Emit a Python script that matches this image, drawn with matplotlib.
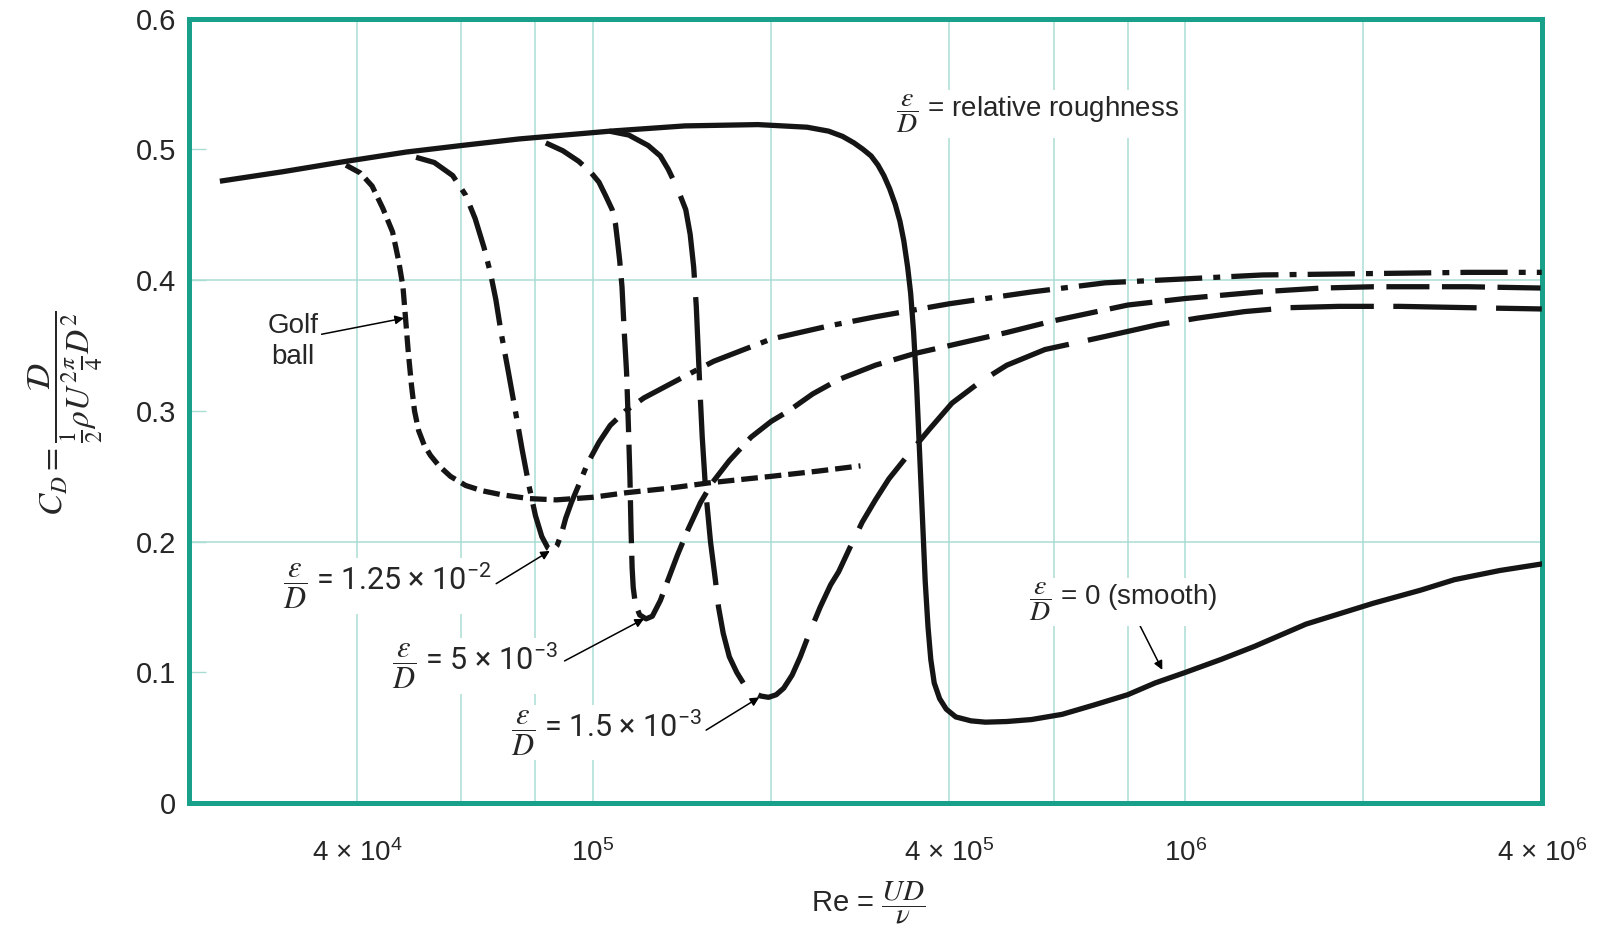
import matplotlib
matplotlib.use("Agg")
import matplotlib.pyplot as plt

plt.rcParams['lines.scale_dashes'] = False
plt.rcParams['font.family'] = ['Liberation Sans Narrow', 'Liberation Sans', 'DejaVu Sans']

# drag coefficient curves
re_smooth = [2.37e4, 3e4, 3.72e4, 4.84e4, 6e4, 7.5e4, 1.07e5, 1.43e5, 1.9e5, 2.3e5, 2.5e5,
             2.64e5, 2.76e5, 2.86e5, 2.95e5, 3.03e5, 3.1e5, 3.17e5, 3.24e5, 3.3e5, 3.35e5,
             3.4e5, 3.44e5, 3.48e5, 3.52e5, 3.56e5, 3.6e5, 3.64e5, 3.68e5, 3.72e5, 3.77e5,
             3.85e5, 3.95e5, 4.1e5, 4.35e5, 4.6e5, 5e5, 5.5e5, 6.2e5, 7e5, 8e5, 8.9e5, 1e6,
             1.15e6, 1.31e6, 1.6e6, 2.08e6, 2.5e6, 2.85e6, 3.4e6, 4e6]
cd_smooth = [0.476, 0.483, 0.490, 0.498, 0.503, 0.508, 0.514, 0.518, 0.519, 0.517, 0.514,
             0.510, 0.505, 0.500, 0.495, 0.488, 0.480, 0.470, 0.458, 0.445, 0.430,
             0.410, 0.390, 0.360, 0.320, 0.270, 0.220, 0.170, 0.135, 0.110, 0.092,
             0.080, 0.072, 0.066, 0.063, 0.062, 0.0625, 0.064, 0.068, 0.075, 0.083, 0.092, 0.100,
             0.110, 0.120, 0.137, 0.153, 0.163, 0.171, 0.178, 0.183]

re_15e3 = [1.066e5, 1.15e5, 1.24e5, 1.3e5, 1.34e5, 1.39e5, 1.435e5, 1.46e5, 1.48e5, 1.495e5,
           1.505e5, 1.515e5, 1.53e5, 1.55e5, 1.58e5, 1.61e5, 1.63e5, 1.66e5, 1.7e5, 1.75e5,
           1.8e5, 1.86e5, 1.92e5, 1.98e5, 2.04e5, 2.1e5, 2.17e5, 2.24e5, 2.32e5, 2.42e5,
           2.52e5, 2.6e5, 2.72e5, 2.85e5, 3e5, 3.16e5, 3.4e5, 3.7e5, 4.04e5, 4.5e5,
           5e5, 5.8e5, 7.33e5, 9e5, 1.05e6, 1.26e6, 1.5e6, 1.82e6, 2.3e6, 3e6, 4e6]
cd_15e3 = [0.514, 0.511, 0.503, 0.495, 0.485, 0.470, 0.454, 0.435, 0.410, 0.380,
           0.350, 0.320, 0.280, 0.240, 0.200, 0.171, 0.150, 0.130, 0.112, 0.100,
           0.091, 0.085, 0.082, 0.081, 0.083, 0.088, 0.098, 0.112, 0.130, 0.150,
           0.167, 0.177, 0.196, 0.215, 0.232, 0.248, 0.266, 0.286, 0.306, 0.322,
           0.335, 0.347, 0.357, 0.366, 0.371, 0.376, 0.379, 0.380, 0.380, 0.379, 0.378]

re_5e3 = [8.33e4, 8.9e4, 9.46e4, 9.9e4, 1.024e5, 1.05e5, 1.078e5, 1.092e5, 1.1e5, 1.11e5,
          1.12e5, 1.13e5, 1.14e5, 1.148e5, 1.155e5, 1.16e5, 1.165e5, 1.17e5, 1.18e5, 1.2e5,
          1.23e5, 1.26e5, 1.3e5, 1.34e5, 1.39e5, 1.45e5, 1.52e5, 1.59e5, 1.7e5, 1.85e5,
          2e5, 2.14e5, 2.35e5, 2.6e5, 3e5, 3.5e5, 4e5, 5e5, 6e5, 8e5, 1e6, 1.33e6, 1.7e6,
          2.08e6, 3e6, 4e6]
cd_5e3 = [0.505, 0.499, 0.491, 0.483, 0.475, 0.465, 0.454, 0.443, 0.431, 0.415,
          0.395, 0.360, 0.330, 0.290, 0.250, 0.210, 0.180, 0.165, 0.152, 0.144,
          0.141, 0.143, 0.155, 0.171, 0.190, 0.210, 0.230, 0.245, 0.262, 0.280,
          0.292, 0.300, 0.313, 0.324, 0.335, 0.344, 0.350, 0.360, 0.369, 0.381, 0.386, 0.391, 0.394,
          0.395, 0.395, 0.394]

re_125e2 = [5.03e4, 5.4e4, 5.8e4, 6.1e4, 6.33e4, 6.55e4, 6.72e4, 6.86e4, 7.0e4, 7.2e4,
            7.4e4, 7.6e4, 7.8e4, 8.0e4, 8.2e4, 8.4e4, 8.55e4, 8.7e4, 8.85e4, 9.0e4,
            9.2e4, 9.5e4, 9.8e4, 1.024e5, 1.07e5, 1.135e5, 1.22e5, 1.33e5, 1.45e5, 1.6e5,
            1.8e5, 2e5, 2.5e5, 3e5, 4e5, 5.5e5, 7.33e5, 1e6, 1.35e6, 2e6, 3e6, 4e6]
cd_125e2 = [0.494, 0.490, 0.480, 0.465, 0.447, 0.425, 0.405, 0.385, 0.360, 0.330,
            0.300, 0.270, 0.243, 0.220, 0.204, 0.195, 0.193, 0.197, 0.206, 0.218,
            0.230, 0.245, 0.260, 0.276, 0.289, 0.300, 0.310, 0.319, 0.328, 0.338,
            0.347, 0.355, 0.365, 0.372, 0.382, 0.391, 0.398, 0.401, 0.404, 0.405, 0.406, 0.406]

re_golf = [3.83e4, 4.05e4, 4.24e4, 4.42e4, 4.59e4, 4.7e4, 4.78e4, 4.83e4, 4.88e4, 4.94e4,
           5.0e4, 5.08e4, 5.19e4, 5.32e4, 5.5e4, 5.75e4, 6.1e4, 6.5e4, 7.0e4, 7.8e4,
           8.67e4, 1e5, 1.14e5, 1.35e5, 1.57e5, 2e5, 2.4e5, 2.83e5]
cd_golf = [0.488, 0.482, 0.472, 0.455, 0.437, 0.415, 0.395, 0.370, 0.345, 0.320,
           0.300, 0.285, 0.274, 0.266, 0.258, 0.250, 0.243, 0.239, 0.236, 0.233,
           0.232, 0.234, 0.2375, 0.241, 0.245, 0.250, 0.254, 0.258]

x_grid = [4e4, 6e4, 8e4, 1e5, 2e5, 4e5, 6e5, 8e5, 1e6, 2e6]
x_ticks = [4e4, 1e5, 4e5, 1e6, 4e6]
x_labels = [r'4 × $\mathregular{10^{4}}$', r'$\mathregular{10^{5}}$', r'4 × $\mathregular{10^{5}}$',
            r'$\mathregular{10^{6}}$', r'4 × $\mathregular{10^{6}}$']
y_ticks = [0, 0.1, 0.2, 0.3, 0.4, 0.5, 0.6]
y_labels = ['0', '0.1', '0.2', '0.3', '0.4', '0.5', '0.6']

teal = '#18a08a'
grid_c = '#a9dcd3'
ink = '#151515'
txt = '#262626'

fig = plt.figure(figsize=(16.01, 9.34), dpi=100)
ax = fig.add_axes([0.118, 0.140, 0.845, 0.840])
ax.set_xscale('log')
ax.set_xlim(2.08e4, 4e6)
ax.set_ylim(0, 0.6)

for xv in x_grid:
    ax.axvline(xv, color=grid_c, lw=1.1, zorder=0)
for yv in [0.2, 0.4]:
    ax.axhline(yv, color=grid_c, lw=1.1, zorder=0)

lw = 3.8
ax.plot(re_smooth, cd_smooth, color=ink, lw=lw, solid_joinstyle='round', zorder=3)
ax.plot(re_15e3, cd_15e3, color=ink, lw=lw, dashes=(60, 14), dash_capstyle='butt', zorder=3)
ax.plot(re_5e3, cd_5e3, color=ink, lw=lw, dashes=(31, 9), dash_capstyle='butt', zorder=3)
ax.plot(re_125e2, cd_125e2, color=ink, lw=lw, dashes=(34, 8, 5, 8), dash_capstyle='butt', zorder=3)
ax.plot(re_golf, cd_golf, color=ink, lw=lw, dashes=(12, 5), dash_capstyle='butt', zorder=3)

ax.set_xticks(x_ticks)
ax.set_xticklabels(x_labels)
ax.xaxis.set_minor_locator(matplotlib.ticker.NullLocator())
ax.set_yticks(y_ticks)
ax.set_yticklabels(y_labels)
ax.tick_params(axis='x', length=0, pad=26, labelsize=20, labelcolor=txt)
ax.tick_params(axis='y', direction='in', length=12, width=1, color=grid_c, pad=9,
               labelsize=21, labelcolor=txt)
for s in ax.spines.values():
    s.set_color(teal)
    s.set_linewidth(3.6)

box = dict(facecolor='white', edgecolor='none', pad=2)
arrow = dict(arrowstyle='-|>', color='black', lw=1.1, mutation_scale=13, shrinkA=0, shrinkB=0)
frac = r'$\dfrac{\varepsilon}{D}$'

ax.text(3.25e5, 0.527, frac + ' = relative roughness', fontsize=20, va='center',
        math_fontfamily='stix', bbox=box, color=txt, zorder=4)
ax.annotate('Golf\nball', xy=(4.8e4, 0.371), xytext=(3.12e4, 0.353), fontsize=20,
            ha='center', va='center', linespacing=1.25, color=txt,
            arrowprops=dict(arrow, relpos=(1.0, 0.62)), bbox=box, zorder=4)
ax.annotate(frac + r' = 1.25 × $\mathregular{10^{-2}}$', xy=(8.46e4, 0.193), xytext=(3.0e4, 0.166),
            fontsize=22, family='Roboto', math_fontfamily='stix', va='center', color=txt,
            arrowprops=dict(arrow, relpos=(1.02, 0.55)), bbox=box, zorder=4)
ax.annotate(frac + r' = 5 × $\mathregular{10^{-3}}$', xy=(1.22e5, 0.141), xytext=(4.58e4, 0.105),
            fontsize=22, family='Roboto', math_fontfamily='stix', va='center', color=txt,
            arrowprops=dict(arrow, relpos=(1.04, 0.6)), bbox=box, zorder=4)
ax.annotate(frac + r' = 1.5 × $\mathregular{10^{-3}}$', xy=(1.91e5, 0.081), xytext=(7.28e4, 0.054),
            fontsize=22, family='Roboto', math_fontfamily='stix', va='center', color=txt,
            arrowprops=dict(arrow, relpos=(1.02, 0.55)), bbox=box, zorder=4)
ax.annotate(frac + ' = 0 (smooth)', xy=(9.15e5, 0.102), xytext=(5.46e5, 0.154),
            fontsize=20, math_fontfamily='stix', va='center', color=txt,
            arrowprops=dict(arrow, relpos=(0.58, 0.0)), bbox=box, zorder=4)

fig.text(0.041, 0.557, r'$C_D = \dfrac{\mathcal{D}}{\frac{1}{2}\rho U^2\frac{\pi}{4}D^2}$',
         rotation=90, ha='center', va='center', fontsize=24, math_fontfamily='stix', color=txt)
fig.text(0.542, 0.033, r'Re = $\dfrac{UD}{\nu}$', ha='center', va='center', fontsize=21,
         math_fontfamily='stix', color=txt)

fig.savefig('out.png', dpi=100)
